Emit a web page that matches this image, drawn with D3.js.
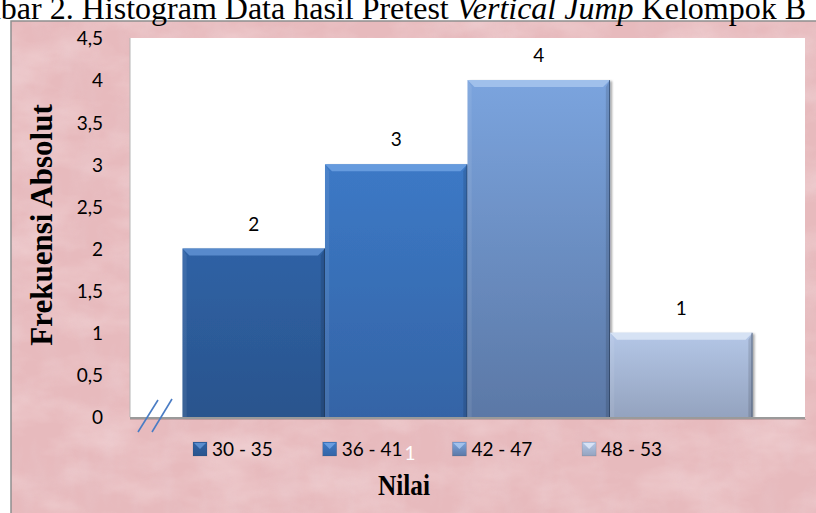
<!DOCTYPE html>
<html>
<head>
<meta charset="utf-8">
<script src="https://cdn.jsdelivr.net/npm/d3@7"></script>
<style>
  html, body { margin: 0; padding: 0; background: #ffffff; overflow: hidden; }
  svg { display: block; }
</style>
</head>
<body>
<svg id="chart" width="816" height="513"></svg>
<script>
// Frequency table: Pretest vertical jump, group B
const categories = ["30 - 35", "36 - 41", "42 - 47", "48 - 53"];
const frequencies = [2, 3, 4, 1];
const yTickValues = [0, 0.5, 1, 1.5, 2, 2.5, 3, 3.5, 4, 4.5];
const yTickLabels = ["0", "0,5", "1", "1,5", "2", "2,5", "3", "3,5", "4", "4,5"];

const titleText = "Gambar 2. Histogram Data hasil Pretest ";
const titleItalic = "Vertical Jump";
const titleTail = " Kelompok B";
const yTitle = "Frekuensi Absolut";
const xTitle = "Nilai";

// Per-bar colour ramps (top, bottom, bevel)
const barTop = ["#2f62a5", "#3c79c6", "#7ba4de", "#b4c7e7"];
const barBottom = ["#2a548d", "#3464a6", "#5b78a6", "#94a3bf"];
const barBevel = ["#5d8fd0", "#6a9ee0", "#a4c3ec", "#d9e4f5"];

const W = 816, H = 513;
const plot = { left: 130, right: 805, top: 38, bottom: 417 };

const svg = d3.select("#chart");
const defs = svg.append("defs");

// Mottled pink paper texture
const tex = defs.append("filter").attr("id", "paper")
  .attr("x", 0).attr("y", 0).attr("width", "100%").attr("height", "100%");
tex.append("feTurbulence").attr("type", "fractalNoise")
  .attr("baseFrequency", "0.015 0.03").attr("numOctaves", 4).attr("seed", 7).attr("result", "noise");
tex.append("feColorMatrix").attr("in", "noise").attr("type", "matrix")
  .attr("values", "0 0 0 0 0.96  0 0 0 0 0.83  0 0 0 0 0.84  1.3 0 0 0 -0.5")
  .attr("result", "light");
tex.append("feComposite").attr("in", "light").attr("in2", "SourceGraphic").attr("operator", "in");

const tex2 = defs.append("filter").attr("id", "paperDark")
  .attr("x", 0).attr("y", 0).attr("width", "100%").attr("height", "100%");
tex2.append("feTurbulence").attr("type", "fractalNoise")
  .attr("baseFrequency", "0.05 0.02").attr("numOctaves", 3).attr("seed", 3).attr("result", "noise");
tex2.append("feColorMatrix").attr("in", "noise").attr("type", "matrix")
  .attr("values", "0 0 0 0 0.82  0 0 0 0 0.62  0 0 0 0 0.65  1.4 0 0 0 -0.6")
  .attr("result", "dark");
tex2.append("feComposite").attr("in", "dark").attr("in2", "SourceGraphic").attr("operator", "in");

const shadow = defs.append("filter").attr("id", "barShadow")
  .attr("x", "-10%").attr("y", "-10%").attr("width", "130%").attr("height", "130%");
shadow.append("feDropShadow").attr("dx", 2).attr("dy", 1).attr("stdDeviation", 1.2)
  .attr("flood-color", "#000").attr("flood-opacity", 0.35);

categories.forEach((c, i) => {
  const g = defs.append("linearGradient").attr("id", "bar" + i)
    .attr("x1", 0).attr("y1", 0).attr("x2", 0).attr("y2", 1);
  g.append("stop").attr("offset", "0%").attr("stop-color", barTop[i]);
  g.append("stop").attr("offset", "100%").attr("stop-color", barBottom[i]);
});

// Chart frame with pink paper background
const frame = { x: 11, y: 21, w: W - 11 + 20, h: H - 21 + 20 };
svg.append("rect").attr("x", frame.x).attr("y", frame.y).attr("width", frame.w).attr("height", frame.h)
  .attr("fill", "#e7babd");
svg.append("rect").attr("x", frame.x).attr("y", frame.y).attr("width", frame.w).attr("height", frame.h)
  .attr("fill", "#fff").attr("filter", "url(#paper)").attr("opacity", 0.55);
svg.append("rect").attr("x", frame.x).attr("y", frame.y).attr("width", frame.w).attr("height", frame.h)
  .attr("fill", "#fff").attr("filter", "url(#paperDark)").attr("opacity", 0.4);
svg.append("rect").attr("x", frame.x).attr("y", frame.y).attr("width", frame.w).attr("height", frame.h)
  .attr("fill", "none").attr("stroke", "#8f8f8f").attr("stroke-width", 1.5);

// Title line (runs off the left edge of the page)
const title = svg.append("text")
  .attr("x", 806).attr("y", 19)
  .attr("text-anchor", "end")
  .attr("font-family", "'Liberation Serif', 'Times New Roman', serif")
  .attr("font-size", 32).attr("fill", "#000");
title.append("tspan").text(titleText);
title.append("tspan").attr("font-style", "italic").text(titleItalic);
title.append("tspan").text(titleTail);

// Plot area
svg.append("rect")
  .attr("x", plot.left).attr("y", plot.top)
  .attr("width", plot.right - plot.left).attr("height", plot.bottom - plot.top)
  .attr("fill", "#ffffff");
svg.append("line")
  .attr("x1", plot.left).attr("x2", plot.left).attr("y1", plot.top).attr("y2", plot.bottom)
  .attr("stroke", "#b5b5b5").attr("stroke-width", 1);

const x = d3.scaleBand().domain(categories)
  .range([plot.left, plot.right]).paddingInner(0).paddingOuter(0.368);
const y = d3.scaleLinear().domain([0, 4.5]).range([plot.bottom, plot.top]);

// Y axis tick labels
const yAxis = d3.axisLeft(y).tickValues(yTickValues)
  .tickFormat((d, i) => yTickLabels[i]).tickSize(0).tickPadding(0);
const yAxisG = svg.append("g").attr("transform", "translate(103,0)").call(yAxis);
yAxisG.select(".domain").remove();
yAxisG.selectAll("text")
  .attr("font-family", "Lato, 'Open Sans', sans-serif")
  .attr("font-size", 19).attr("fill", "#000").attr("dy", "0.36em");

// Bars with bevelled edges
const bevel = 7;
const bars = svg.append("g").selectAll("g.bar")
  .data(categories.map((c, i) => ({ c, v: frequencies[i], i })))
  .join("g").attr("class", "bar");

bars.each(function (d) {
  const g = d3.select(this);
  const x0 = x(d.c), w = x.bandwidth();
  const y0 = y(d.v), y1 = y(0);
  g.append("rect").attr("x", x0).attr("y", y0).attr("width", w).attr("height", y1 - y0)
    .attr("fill", `url(#bar${d.i})`).attr("filter", "url(#barShadow)");
  // top bevel
  g.append("polygon")
    .attr("points", [[x0, y0], [x0 + w, y0], [x0 + w - bevel, y0 + bevel], [x0 + bevel, y0 + bevel]].join(" "))
    .attr("fill", barBevel[d.i]).attr("opacity", 0.9);
  // left bevel
  g.append("polygon")
    .attr("points", [[x0, y0], [x0 + bevel * 0.6, y0 + bevel], [x0 + bevel * 0.6, y1], [x0, y1]].join(" "))
    .attr("fill", "#ffffff").attr("opacity", 0.08);
  // right bevel
  g.append("polygon")
    .attr("points", [[x0 + w, y0], [x0 + w - bevel * 0.6, y0 + bevel], [x0 + w - bevel * 0.6, y1], [x0 + w, y1]].join(" "))
    .attr("fill", "#000000").attr("opacity", 0.12);
  g.append("line").attr("x1", x0 + w - 0.5).attr("x2", x0 + w - 0.5).attr("y1", y0).attr("y2", y1)
    .attr("stroke", "#1d2f4a").attr("stroke-opacity", 0.55).attr("stroke-width", 1);
});

// Value labels
svg.append("g").selectAll("text")
  .data(categories.map((c, i) => ({ c, v: frequencies[i] })))
  .join("text")
  .attr("x", d => x(d.c) + x.bandwidth() / 2)
  .attr("y", d => y(d.v) - 18)
  .attr("text-anchor", "middle")
  .attr("font-family", "Lato, 'Open Sans', sans-serif")
  .attr("font-size", 19).attr("fill", "#000")
  .text(d => d.v);

// Baseline
svg.append("line")
  .attr("x1", plot.left).attr("x2", plot.right).attr("y1", plot.bottom + 1).attr("y2", plot.bottom + 1)
  .attr("stroke", "#9a9a9a").attr("stroke-width", 2);
svg.append("line")
  .attr("x1", plot.left).attr("x2", plot.right + 1).attr("y1", plot.bottom + 2.5).attr("y2", plot.bottom + 2.5)
  .attr("stroke", "#000").attr("stroke-opacity", 0.15).attr("stroke-width", 1);

// Axis break marks
const brk = svg.append("g").attr("stroke", "#4a7cc4").attr("stroke-width", 1.6).attr("fill", "none");
brk.append("line").attr("x1", 138).attr("y1", 432).attr("x2", 158).attr("y2", 400);
brk.append("line").attr("x1", 152).attr("y1", 432).attr("x2", 172).attr("y2", 399);

// Legend
const legendStartX = 193, legendStep = 129.7, legendY = 449;
const legend = svg.append("g").selectAll("g.item")
  .data(categories.map((c, i) => ({ c, i })))
  .join("g").attr("class", "item")
  .attr("transform", d => `translate(${legendStartX + d.i * legendStep},${legendY})`);
legend.append("rect").attr("x", 0).attr("y", -7).attr("width", 14).attr("height", 14)
  .attr("fill", d => `url(#bar${d.i})`).attr("stroke", "#333").attr("stroke-opacity", 0.25).attr("stroke-width", 0.5);
legend.append("polygon").attr("points", "1,-6 13,-6 7,0")
  .attr("fill", d => barBevel[d.i]).attr("opacity", 0.95);
legend.append("text").attr("x", 19).attr("y", 0).attr("dy", "0.36em")
  .attr("font-family", "Lato, 'Open Sans', sans-serif")
  .attr("font-size", 19).attr("fill", "#000")
  .text(d => d.c);

// Page number mark
svg.append("text").attr("x", 410).attr("y", 460).attr("text-anchor", "middle")
  .attr("font-family", "Lato, 'Open Sans', sans-serif").attr("font-size", 19)
  .attr("fill", "#ffffff").text("1");

// Axis titles
svg.append("text")
  .attr("transform", "translate(52,225) rotate(-90)")
  .attr("text-anchor", "middle")
  .attr("font-family", "'Liberation Serif', 'Times New Roman', serif")
  .attr("font-weight", "bold").attr("font-size", 31).attr("fill", "#000")
  .text(yTitle);
svg.append("text")
  .attr("x", 404).attr("y", 495)
  .attr("text-anchor", "middle")
  .attr("font-family", "'Liberation Serif', 'Times New Roman', serif")
  .attr("font-weight", "bold").attr("font-size", 30)
  .attr("textLength", 52).attr("lengthAdjust", "spacingAndGlyphs")
  .attr("fill", "#000")
  .text(xTitle);
</script>
</body>
</html>
